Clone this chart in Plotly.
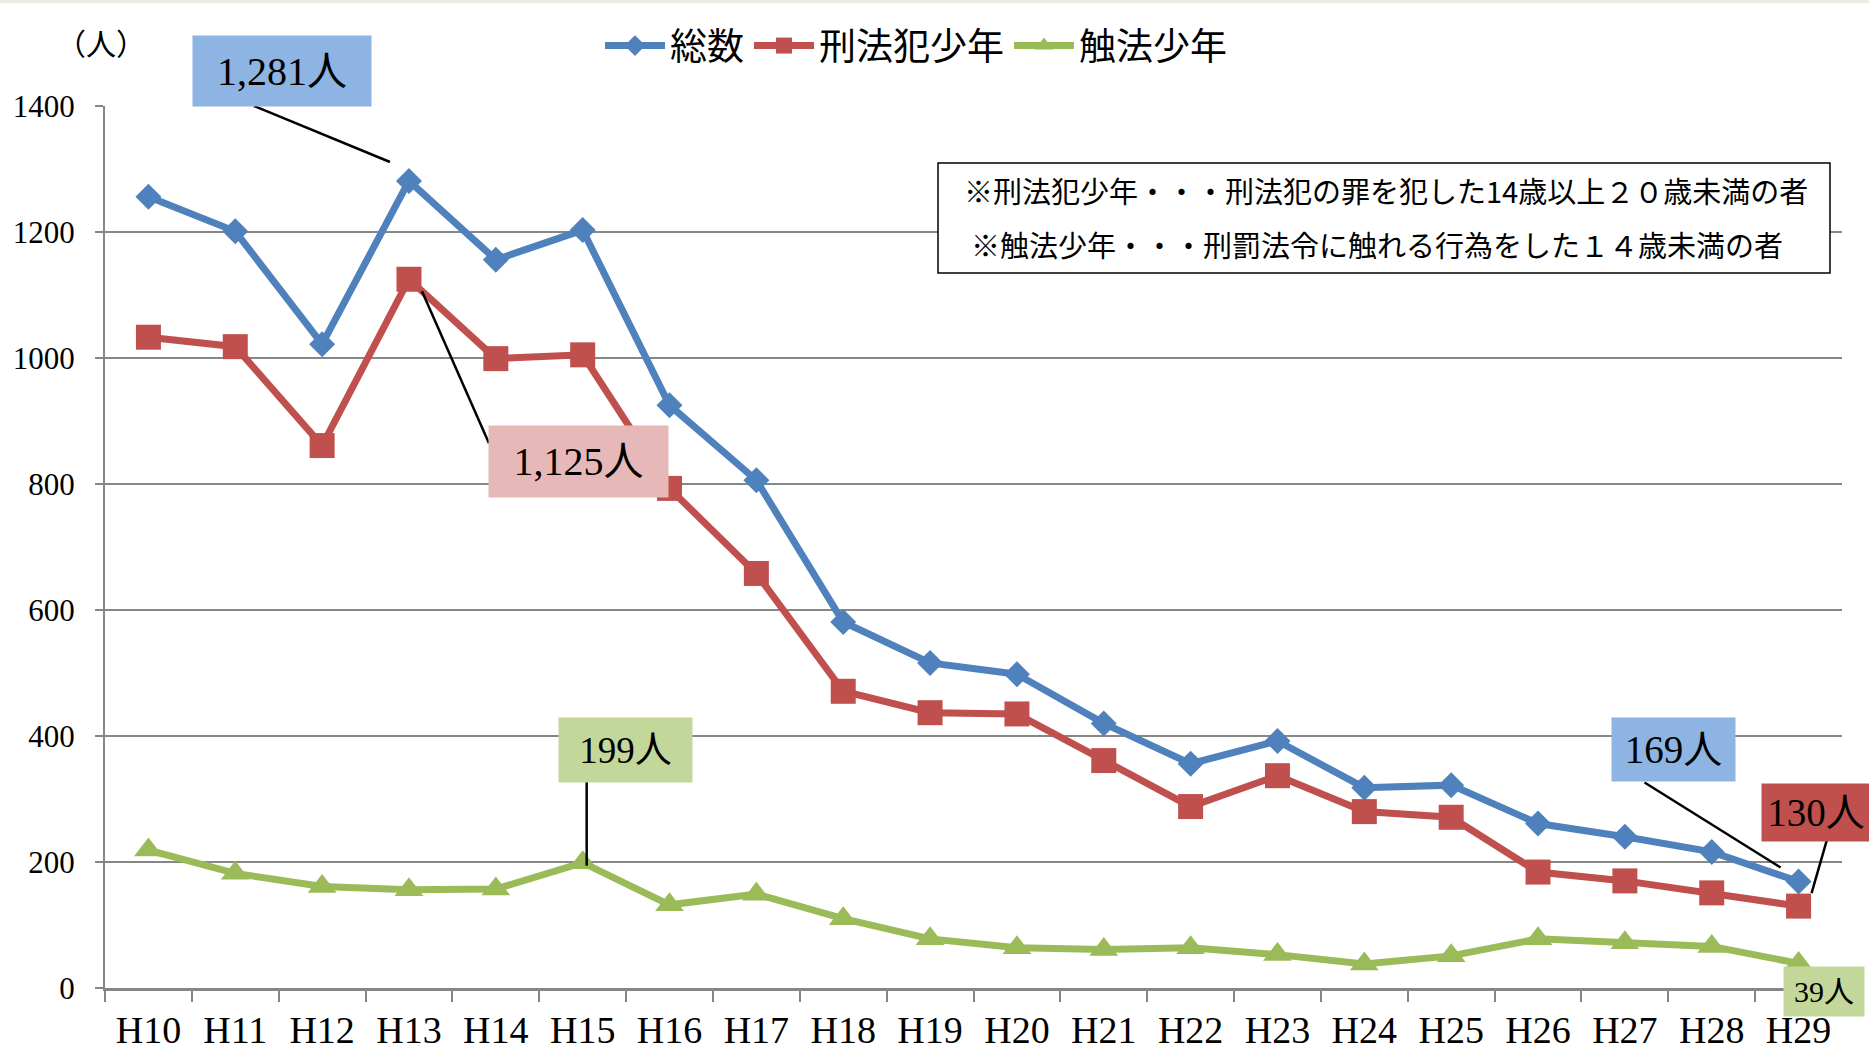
import plotly.graph_objects as go

# Fiscal years (Heisei era)
years = ["H10", "H11", "H12", "H13", "H14", "H15", "H16", "H17", "H18", "H19",
         "H20", "H21", "H22", "H23", "H24", "H25", "H26", "H27", "H28", "H29"]

total = [1256, 1201, 1022, 1281, 1156, 1203, 925, 806, 581, 516,
         498, 420, 356, 392, 318, 322, 261, 240, 216, 169]
penal = [1033, 1018, 861, 1125, 999, 1005, 793, 658, 471, 437,
         435, 361, 288, 337, 280, 271, 184, 170, 151, 130]
tokuho = [219, 182, 161, 156, 157, 199, 132, 149, 110, 78,
          64, 61, 64, 53, 38, 51, 78, 72, 66, 39]

series_names = ["総数", "刑法犯少年", "触法少年"]
series_colors = ["#4F81BD", "#C0504D", "#9BBB59"]
series_symbols = ["diamond", "square", "triangle-up"]
series_sizes = [20, 25, 25]

y_ticks = [0, 200, 400, 600, 800, 1000, 1200, 1400]

note_lines = ["※刑法犯少年・・・刑法犯の罪を犯した14歳以上２０歳未満の者",
              "※触法少年・・・刑罰法令に触れる行為をした１４歳未満の者"]

W, H = 1869, 1052
ML, MR, MT, MB = 105, 27, 106, 64
PW, PH = W - ML - MR, H - MT - MB

SERIF = "Liberation Serif, Noto Sans CJK JP, serif"
JP = "Noto Sans CJK JP, sans-serif"

fig = go.Figure()
for name, vals, col, sym, sz in zip(series_names, [total, penal, tokuho],
                                     series_colors, series_symbols, series_sizes):
    fig.add_trace(go.Scatter(
        x=years, y=vals, name=name, mode="lines+markers",
        line=dict(color=col, width=7),
        marker=dict(symbol=sym, size=sz, color=col, line=dict(width=0)),
        hoverinfo="x+y+name",
    ))


def px_x(p):
    return (p - ML) / PW


def px_y(p):
    return (H - MB - p) / PH


# value callouts: (series values, year, box colour, font size, box w, box h,
#                  box centre offset dx/dy, leader line offsets)
callouts = [
    (total, "H13", "#8DB4E2", 40, 178, 70, -127, 110, (-155, 75, -19, 19)),
    (penal, "H13", "#E6B9B8", 40, 179, 71, 170, -182, (13, -12, 80, -164)),
    (tokuho, "H15", "#C4D79B", 37, 133, 64, 43, 113, (4, 81, 4, -3)),
    (total, "H29", "#8DB4E2", 39, 123, 63, -125, 132, (-154, 99, -18, 14)),
    (penal, "H29", "#C0504D", 39, 108, 57, 17, 94, (32, 79, 13, 13)),
    (tokuho, "H29", "#C4D79B", 30, 80, 49, 25, -28, None),
]

shapes = []
annotations = []
for vals, yr, bg, fs, bw, bh, dx, dy, line in callouts:
    idx = years.index(yr)
    v = vals[idx]
    annotations.append(dict(
        x=yr, y=v, xref="x", yref="y", xshift=dx, yshift=dy,
        text=f"{v:,}人", showarrow=False, bgcolor=bg, width=bw, height=bh,
        borderpad=0, font=dict(family=SERIF, size=fs, color="#000000"),
        xanchor="center", yanchor="middle",
    ))
    if line:
        shapes.append(dict(
            type="line", xref="x", yref="y", xsizemode="pixel", ysizemode="pixel",
            xanchor=idx, yanchor=v, x0=line[0], y0=line[1], x1=line[2], y1=line[3],
            line=dict(color="#000000", width=2.5), layer="above",
        ))

# explanatory note box
shapes.append(dict(type="rect", xref="paper", yref="paper",
                   x0=px_x(938), x1=px_x(1830), y0=px_y(273), y1=px_y(163),
                   line=dict(color="#000000", width=1.5), fillcolor="#FFFFFF",
                   layer="above"))
annotations.append(dict(x=px_x(1386), y=px_y(190), xref="paper", yref="paper",
                        xanchor="center", yanchor="middle",
                        text=note_lines[0], showarrow=False,
                        font=dict(family=JP, size=29, color="#000000")))
annotations.append(dict(x=px_x(1377), y=px_y(244), xref="paper", yref="paper",
                        xanchor="center", yanchor="middle",
                        text=note_lines[1], showarrow=False,
                        font=dict(family=JP, size=29, color="#000000")))

# unit label
annotations.append(dict(x=px_x(101), y=px_y(45), xref="paper", yref="paper",
                        xanchor="center", yanchor="middle",
                        text="（人）", showarrow=False,
                        font=dict(family=SERIF, size=30, color="#000000")))

# thin beige band along the top edge
shapes.append(dict(type="rect", xref="paper", yref="paper",
                   x0=px_x(-5), x1=px_x(W + 5), y0=px_y(3), y1=px_y(-5),
                   line=dict(width=0), fillcolor="#EEEBE2", layer="above"))

fig.update_layout(
    width=W, height=H, autosize=False,
    margin=dict(l=ML, r=MR, t=MT, b=MB, pad=0),
    paper_bgcolor="#FFFFFF", plot_bgcolor="#FFFFFF",
    showlegend=True,
    legend=dict(orientation="h", x=px_x(600), xanchor="left",
                y=px_y(46), yanchor="middle", itemwidth=60,
                font=dict(family=JP, size=37, color="#000000"),
                bgcolor="rgba(0,0,0,0)", itemsizing="trace"),
    shapes=shapes, annotations=annotations,
    xaxis=dict(type="category", categoryorder="array", categoryarray=years,
               range=[-0.5, len(years) - 0.5], automargin=False,
               showline=True, linecolor="#868686", linewidth=3,
               showgrid=False, zeroline=False,
               ticks="outside", tickson="boundaries", ticklen=11,
               tickwidth=2, tickcolor="#868686", ticklabelstandoff=6,
               tickfont=dict(family=SERIF, size=38, color="#000000")),
    yaxis=dict(range=[0, 1400], tickvals=y_ticks, automargin=False,
               showline=True, linecolor="#868686", linewidth=2,
               showgrid=True, gridcolor="#878787", gridwidth=2,
               zeroline=False, ticks="outside", ticklen=8, tickwidth=2,
               tickcolor="#868686", ticklabelstandoff=14,
               tickfont=dict(family=SERIF, size=31, color="#000000")),
)

fig.write_html("out.html")
